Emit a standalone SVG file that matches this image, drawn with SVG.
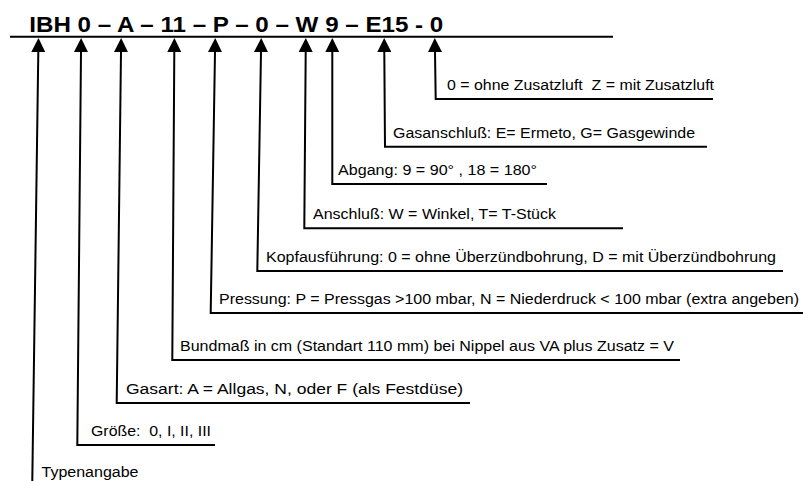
<svg xmlns="http://www.w3.org/2000/svg" width="803" height="481" viewBox="0 0 803 481">
<style>
text{font-family:"Liberation Sans",Arial,sans-serif;fill:#000}
.lbl{font-size:14px}
.title{font-size:22px;font-weight:bold}
.c{fill:none;stroke:#000;stroke-width:2;marker-end:url(#ah)}
</style>
<defs>
<marker id="ah" viewBox="0 0 14 14" refX="0" refY="7" markerWidth="14" markerHeight="14" markerUnits="userSpaceOnUse" orient="auto">
<path d="M0,0 L14,7 L0,14 Z" fill="#000"/>
</marker>
</defs>
<rect width="803" height="481" fill="#fff"/>
<g id="title">
<text class="title" x="29.3" y="32" textLength="414" lengthAdjust="spacingAndGlyphs">IBH 0 – A – 11 – P – 0 – W 9 – E15 - 0</text>
<line x1="10" y1="36.7" x2="613" y2="36.7" stroke="#000" stroke-width="2"/>
</g>
<g id="connectors">
<polyline class="c" points="713,99 435.7,99 435,52"/>
<polyline class="c" points="707,146.7 385,146.7 384.3,52"/>
<polyline class="c" points="547,184 332.3,184 332.3,52"/>
<polyline class="c" points="623,228.3 304.3,228.3 305.7,52"/>
<polyline class="c" points="783,271 257.3,271 261,52"/>
<polyline class="c" points="803,313 210.7,313 215,52"/>
<polyline class="c" points="680,360 172.3,360 174.3,52"/>
<polyline class="c" points="470,403 116.7,403 121,52"/>
<polyline class="c" points="215,445 77.3,445 81,52"/>
<polyline class="c" points="32.3,481 38.3,52"/>
</g>
<g id="zusatzluft"><text class="lbl" x="447" y="90" textLength="267" lengthAdjust="spacingAndGlyphs" xml:space="preserve">0 = ohne Zusatzluft  Z = mit Zusatzluft</text></g>
<g id="gasanschluss"><text class="lbl" x="393" y="137.5" textLength="302" lengthAdjust="spacingAndGlyphs">Gasanschluß: E= Ermeto, G= Gasgewinde</text></g>
<g id="abgang"><text class="lbl" x="338" y="175" textLength="199" lengthAdjust="spacingAndGlyphs">Abgang: 9 = 90° , 18 = 180°</text></g>
<g id="anschluss"><text class="lbl" x="313" y="219" textLength="243" lengthAdjust="spacingAndGlyphs">Anschluß: W = Winkel, T= T-Stück</text></g>
<g id="kopfausfuehrung"><text class="lbl" x="266" y="262" textLength="510" lengthAdjust="spacingAndGlyphs">Kopfausführung: 0 = ohne Überzündbohrung, D = mit Überzündbohrung</text></g>
<g id="pressung"><text class="lbl" x="219" y="304" textLength="580" lengthAdjust="spacingAndGlyphs">Pressung: P = Pressgas &gt;100 mbar, N = Niederdruck &lt; 100 mbar (extra angeben)</text></g>
<g id="bundmass"><text class="lbl" x="180" y="351" textLength="494" lengthAdjust="spacingAndGlyphs">Bundmaß in cm (Standart 110 mm) bei Nippel aus VA plus Zusatz = V</text></g>
<g id="gasart"><text class="lbl" x="126" y="394" textLength="337" lengthAdjust="spacingAndGlyphs">Gasart: A = Allgas, N, oder F (als Festdüse)</text></g>
<g id="groesse"><text class="lbl" x="91" y="436" textLength="120" lengthAdjust="spacingAndGlyphs" xml:space="preserve">Größe:  0, I, II, III</text></g>
<g id="typenangabe"><text class="lbl" x="41.5" y="477" textLength="97" lengthAdjust="spacingAndGlyphs">Typenangabe</text></g>
</svg>
